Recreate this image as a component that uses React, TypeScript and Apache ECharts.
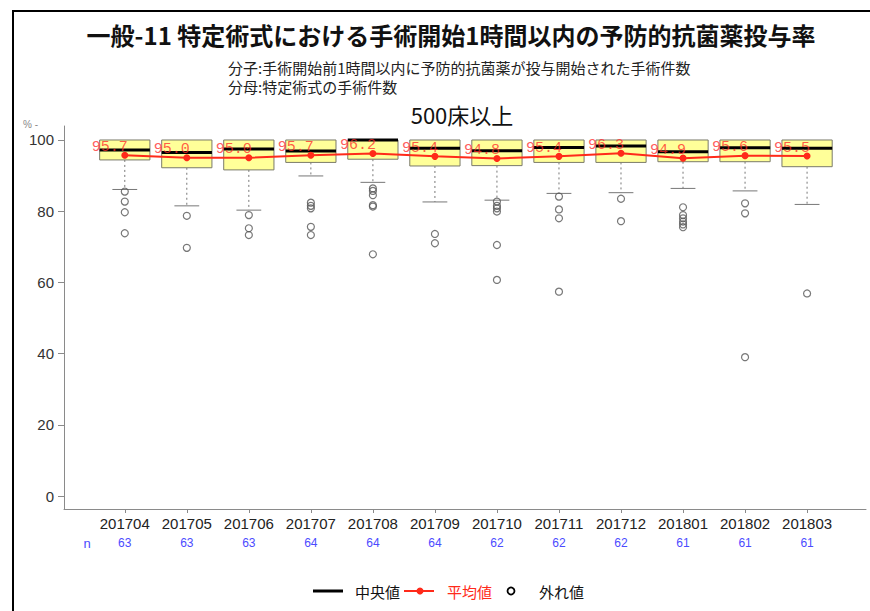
import React, { useEffect, useRef } from "react";
import * as echarts from "echarts";

const categories = ["201704", "201705", "201706", "201707", "201708", "201709", "201710", "201711", "201712", "201801", "201802", "201803"];
const nValues = [63, 63, 63, 64, 64, 64, 62, 62, 62, 61, 61, 61];
const q1 = [94.4, 92.2, 91.6, 93.7, 94.6, 92.7, 92.8, 93.7, 93.7, 93.9, 93.9, 92.5];
const medians = [97.2, 96.5, 97.5, 96.9, 100, 97.7, 97.0, 97.9, 98.3, 96.7, 97.8, 97.7];
const q3 = [100, 100, 100, 100, 100, 100, 100, 100, 100, 100, 100, 100];
const whiskerLow = [86.1, 81.5, 80.3, 89.9, 88.1, 82.6, 83.1, 85.0, 85.2, 86.4, 85.7, 81.9];
const whiskerHigh = [100, 100, 100, 100, 100, 100, 100, 100, 100, 100, 100, 100];
const means = [95.7, 95.0, 95.0, 95.7, 96.2, 95.4, 94.8, 95.4, 96.3, 94.9, 95.6, 95.5];
const outliers: number[][] = [
  [85.5, 82.7, 79.7, 73.8],
  [78.7, 69.7],
  [78.9, 75.2, 73.3],
  [82.4, 81.5, 80.8, 75.6, 73.3],
  [86.4, 85.7, 84.5, 81.7, 81.3, 67.9],
  [73.6, 71.0],
  [82.7, 81.5, 80.8, 79.9, 70.5, 60.7],
  [84.1, 80.5, 78.0, 57.4],
  [83.5, 77.2],
  [81.1, 78.9, 78.0, 77.1, 76.3, 75.5],
  [82.2, 79.4, 39.0],
  [56.9],
];
const yTicks = [0, 20, 40, 60, 80, 100];

const TITLE = "一般-11 特定術式における手術開始1時間以内の予防的抗菌薬投与率";
const SUB1 = "分子:手術開始前1時間以内に予防的抗菌薬が投与開始された手術件数";
const SUB2 = "分母:特定術式の手術件数";
const SUBTITLE = "500床以上";
const LEGEND = ["中央値", "平均値", "外れ値"];

const CJK = '"Noto Sans CJK JP", "Noto Sans", sans-serif';
const LAT = '"Liberation Sans", Arial, sans-serif';

export default function App() {
  const ref = useRef<HTMLDivElement>(null);
  useEffect(() => {
    if (!ref.current) return;
    const chart = echarts.init(ref.current, null, { renderer: "svg" });
    const idx = categories.map((_, i) => i);
    const boxData = categories.map((_, i) => [i, q1[i], medians[i], q3[i], whiskerLow[i], whiskerHigh[i]]);
    const outData: number[][] = [];
    outliers.forEach((arr, i) => arr.forEach((v) => outData.push([i, v])));
    const meanData = means.map((m, i) => [i, m]);

    const option: any = {
      animation: false,
      backgroundColor: "#fff",
      grid: { left: 64, right: 4, top: 126, bottom: 102, containLabel: false },
      xAxis: [
        {
          type: "value",
          min: -0.98,
          max: 11.95,
          position: "bottom",
          axisLine: { show: true, onZero: false, lineStyle: { color: "#8a8a8a", width: 1 } },
          axisTick: { show: true, customValues: idx, length: 4, lineStyle: { color: "#8a8a8a" } },
          axisLabel: {
            customValues: idx,
            formatter: (v: number) => categories[Math.round(v)] ?? "",
            fontSize: 15,
            color: "#222",
            fontFamily: LAT,
            margin: 7,
          },
          splitLine: { show: false },
        },
        {
          type: "value",
          min: -0.98,
          max: 11.95,
          position: "bottom",
          axisLine: { show: false, onZero: false },
          axisTick: { show: false },
          axisLabel: {
            customValues: idx,
            formatter: (v: number) => String(nValues[Math.round(v)] ?? ""),
            fontSize: 12,
            color: "#4b4bff",
            fontFamily: LAT,
            margin: 28,
          },
          splitLine: { show: false },
        },
      ],
      yAxis: {
        type: "value",
        min: -3.65,
        max: 103.93,
        axisLine: { show: true, onZero: false, lineStyle: { color: "#8a8a8a", width: 1 } },
        axisTick: { show: true, customValues: yTicks, length: 6, lineStyle: { color: "#8a8a8a" } },
        axisLabel: { customValues: yTicks, fontSize: 15, color: "#333", fontFamily: LAT, margin: 10 },
        splitLine: { show: false },
      },
      graphic: [
        { type: "line", shape: { x1: 13, y1: 11, x2: 870, y2: 11 }, style: { stroke: "#000", lineWidth: 2 } },
        { type: "line", shape: { x1: 13, y1: 10, x2: 13, y2: 611 }, style: { stroke: "#000", lineWidth: 2 } },
        { type: "text", x: 451, y: 34, style: { text: TITLE, font: `bold 24px ${CJK}`, fill: "#111", textAlign: "center", textVerticalAlign: "middle" } },
        { type: "text", x: 228, y: 67, style: { text: SUB1, font: `15px ${CJK}`, fill: "#222", textAlign: "left", textVerticalAlign: "middle" } },
        { type: "text", x: 228, y: 86, style: { text: SUB2, font: `15px ${CJK}`, fill: "#222", textAlign: "left", textVerticalAlign: "middle" } },
        { type: "text", x: 462, y: 114, style: { text: SUBTITLE, font: `22px ${CJK}`, fill: "#111", textAlign: "center", textVerticalAlign: "middle" } },
        { type: "text", x: 23, y: 124, style: { text: "% -", font: `10px ${LAT}`, fill: "#888", textAlign: "left", textVerticalAlign: "middle" } },
        { type: "text", x: 87, y: 543, style: { text: "n", font: `13px ${LAT}`, fill: "#4b4bff", textAlign: "center", textVerticalAlign: "middle" } },
        { type: "line", shape: { x1: 313, y1: 591, x2: 343, y2: 591 }, style: { stroke: "#000", lineWidth: 3 } },
        { type: "text", x: 355, y: 591, style: { text: LEGEND[0], font: `15px ${CJK}`, fill: "#111", textAlign: "left", textVerticalAlign: "middle" } },
        { type: "line", shape: { x1: 404, y1: 591, x2: 434, y2: 591 }, style: { stroke: "#ff2a1a", lineWidth: 2 } },
        { type: "circle", shape: { cx: 420, cy: 591, r: 3.5 }, style: { fill: "#ff2a1a" } },
        { type: "text", x: 447, y: 591, style: { text: LEGEND[1], font: `15px ${CJK}`, fill: "#ff2a1a", textAlign: "left", textVerticalAlign: "middle" } },
        { type: "circle", shape: { cx: 511, cy: 591, r: 3.5 }, style: { fill: "none", stroke: "#000", lineWidth: 1.8 } },
        { type: "text", x: 539, y: 591, style: { text: LEGEND[2], font: `15px ${CJK}`, fill: "#111", textAlign: "left", textVerticalAlign: "middle" } },
      ],
      series: [
        {
          type: "custom",
          xAxisIndex: 0,
          z: 2,
          data: boxData,
          renderItem: (params: any, api: any) => {
            const i = api.value(0);
            const p1 = api.coord([i, api.value(1)]);
            const x = p1[0];
            const yQ1 = p1[1];
            const yMed = api.coord([i, api.value(2)])[1];
            const yQ3 = api.coord([i, api.value(3)])[1];
            const yLo = api.coord([i, api.value(4)])[1];
            const yHi = api.coord([i, api.value(5)])[1];
            const unit = api.size([1, 0])[0];
            const bw = unit * 0.81;
            const cw = unit * 0.4;
            const children: any[] = [
              { type: "line", shape: { x1: x, y1: yQ1, x2: x, y2: yLo }, style: { stroke: "#777", lineWidth: 1, lineDash: [2, 3] } },
              { type: "line", shape: { x1: x - cw / 2, y1: yLo, x2: x + cw / 2, y2: yLo }, style: { stroke: "#777", lineWidth: 1 } },
            ];
            if (yHi < yQ3 - 0.5) {
              children.push({ type: "line", shape: { x1: x, y1: yQ3, x2: x, y2: yHi }, style: { stroke: "#777", lineWidth: 1, lineDash: [2, 3] } });
              children.push({ type: "line", shape: { x1: x - cw / 2, y1: yHi, x2: x + cw / 2, y2: yHi }, style: { stroke: "#777", lineWidth: 1 } });
            }
            children.push({ type: "rect", shape: { x: x - bw / 2, y: yQ3, width: bw, height: yQ1 - yQ3 }, style: { fill: "#ffff99", stroke: "#7a7a6a", lineWidth: 1 } });
            children.push({ type: "line", shape: { x1: x - bw / 2, y1: yMed, x2: x + bw / 2, y2: yMed }, style: { stroke: "#000", lineWidth: 3 } });
            return { type: "group", children };
          },
        },
        {
          type: "scatter",
          xAxisIndex: 0,
          z: 3,
          data: outData,
          symbol: "circle",
          symbolSize: 7,
          itemStyle: { color: "rgba(0,0,0,0)", borderColor: "#555", borderWidth: 1.2 },
        },
        {
          type: "line",
          xAxisIndex: 0,
          z: 4,
          data: meanData,
          symbol: "circle",
          symbolSize: 7,
          itemStyle: { color: "#ff2a1a" },
          lineStyle: { color: "#ff2a1a", width: 2 },
          label: {
            show: true,
            position: "inside",
            offset: [-15, -8],
            formatter: (p: any) => Number(p.value[1]).toFixed(1),
            fontFamily: '"Liberation Mono", "DejaVu Sans Mono", monospace',
            fontSize: 15,
            color: "rgba(255,40,40,0.75)",
          },
        },
      ],
    };
    chart.setOption(option);
    return () => chart.dispose();
  }, []);
  return (
    <div
      ref={ref}
      style={{ position: "fixed", left: 0, top: 0, width: 870, height: 611, background: "#fff" }}
    />
  );
}
